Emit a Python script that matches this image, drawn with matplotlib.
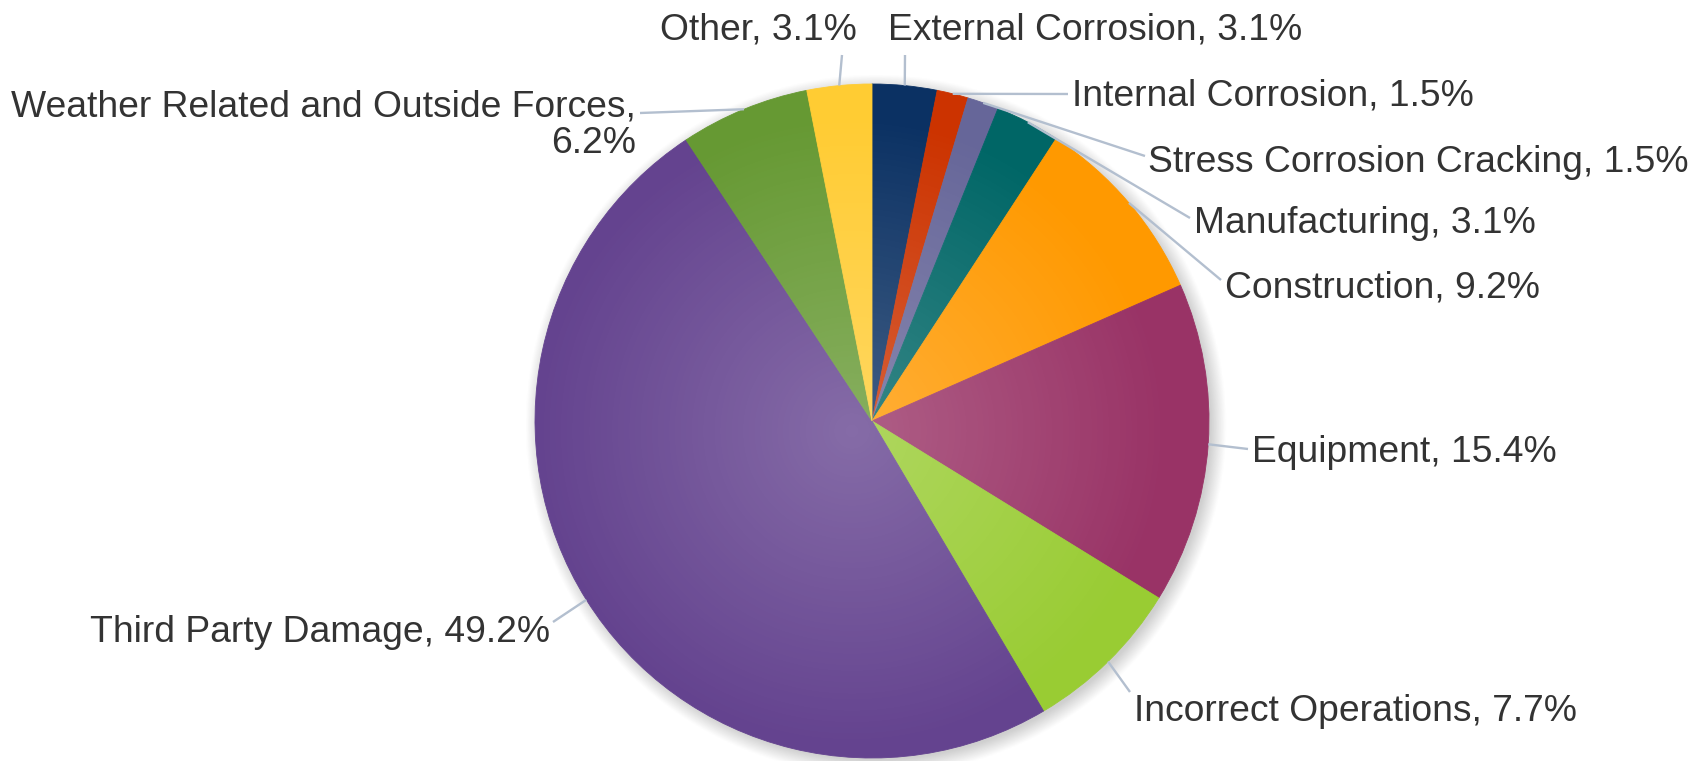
import numpy as np
import matplotlib
matplotlib.use("Agg")
import matplotlib.pyplot as plt
from matplotlib.patches import Circle

# ---- data ----
categories = ["External Corrosion", "Internal Corrosion", "Stress Corrosion Cracking",
              "Manufacturing", "Construction", "Equipment", "Incorrect Operations",
              "Third Party Damage", "Weather Related and Outside Forces", "Other"]
values = [3.1, 1.5, 1.5, 3.1, 9.2, 15.4, 7.7, 49.2, 6.2, 3.1]
colors = ["#0b3163", "#cc3300", "#666699", "#006666", "#ff9900", "#993366",
          "#99cc33", "#64438f", "#669933", "#ffcc33"]

# ---- layout (pixels) ----
W, H = 1707, 761
cx, cy, R = 872, 421, 337
# label text anchor: (x, baseline y, ha)
label_pos = [(888, 40, "left"), (1072, 106, "left"), (1148, 172, "left"),
             (1194, 233, "left"), (1225, 298, "left"), (1252, 462, "left"),
             (1134, 721, "left"), (550, 642, "right"), (636, 153, "right"),
             (857, 40, "right")]
conn_end = [(905, 55), (1068, 94), (1145, 156), (1190, 218), (1221, 280),
            (1248, 449), (1130, 692), (553, 622), (640, 113), (842, 55)]
label_text = [
    "External Corrosion, 3.1%", "Internal Corrosion, 1.5%",
    "Stress Corrosion Cracking, 1.5%", "Manufacturing, 3.1%",
    "Construction, 9.2%", "Equipment, 15.4%", "Incorrect Operations, 7.7%",
    "Third Party Damage, 49.2%", "Weather Related and Outside Forces,\n6.2%",
    "Other, 3.1%"]

fig = plt.figure(figsize=(W / 100, H / 100), dpi=100)
ax = fig.add_axes([0, 0, 1, 1])

# shadow
S = R + 40
n = 500
xs = np.linspace(cx - S, cx + S, n)
ys = np.linspace(cy - S, cy + S, n)
X, Y = np.meshgrid(xs, ys)
d = np.hypot(X - (cx + 4), Y - (cy + 4))
sh_alpha = 0.34 * np.clip((R + 6 - d) / 16 + 0.5, 0, 1)
shadow = np.zeros((n, n, 4))
shadow[..., :3] = 0.45
shadow[..., 3] = sh_alpha
ax.imshow(shadow, extent=(cx - S, cx + S, -(cy + S), -(cy - S)), origin="upper",
          zorder=1, interpolation="bilinear")

wedges, _ = ax.pie(values, colors=colors, startangle=90, counterclock=False,
                   center=(cx, -cy), radius=R, frame=True,
                   wedgeprops=dict(linewidth=0.6))
for w, c in zip(wedges, colors):
    w.set_edgecolor(c)
    w.set_zorder(2)

# radial lightening overlay
n2 = 500
xs2 = np.linspace(cx - R, cx + R, n2)
ys2 = np.linspace(cy - R, cy + R, n2)
X2, Y2 = np.meshgrid(xs2, ys2)
r = np.hypot(X2 - (cx - 20), Y2 - (cy + 10))
alpha = 0.22 * np.clip(1 - r / (0.95 * R), 0, 1)
ov = np.ones((n2, n2, 4))
ov[..., 3] = alpha
im = ax.imshow(ov, extent=(cx - R, cx + R, -(cy + R), -(cy - R)), origin="upper",
               zorder=3, interpolation="bilinear")
clip = Circle((cx, -cy), R, transform=ax.transData)
im.set_clip_path(clip)

# connectors and labels
total = sum(values)
cum = 0.0
for i, v in enumerate(values):
    mid = (cum + v / 2) / total * 2 * np.pi
    cum += v
    ex = cx + R * np.sin(mid)
    ey = cy - R * np.cos(mid)
    tx, ty = conn_end[i]
    ax.plot([ex, tx], [-ey, -ty], color="#b3bfcf", lw=1.7, zorder=4,
            solid_capstyle="butt")
    lx, ly, ha = label_pos[i]
    ax.text(lx, -ly, label_text[i], ha=ha, va="baseline", fontsize=26.8,
            family=["Liberation Sans", "DejaVu Sans"], color="#333333",
            multialignment="right", linespacing=1.07, zorder=5)

ax.set_xlim(0, W)
ax.set_ylim(-H, 0)
ax.set_aspect("auto")
ax.axis("off")
fig.savefig("out.png", dpi=100, facecolor="white")
